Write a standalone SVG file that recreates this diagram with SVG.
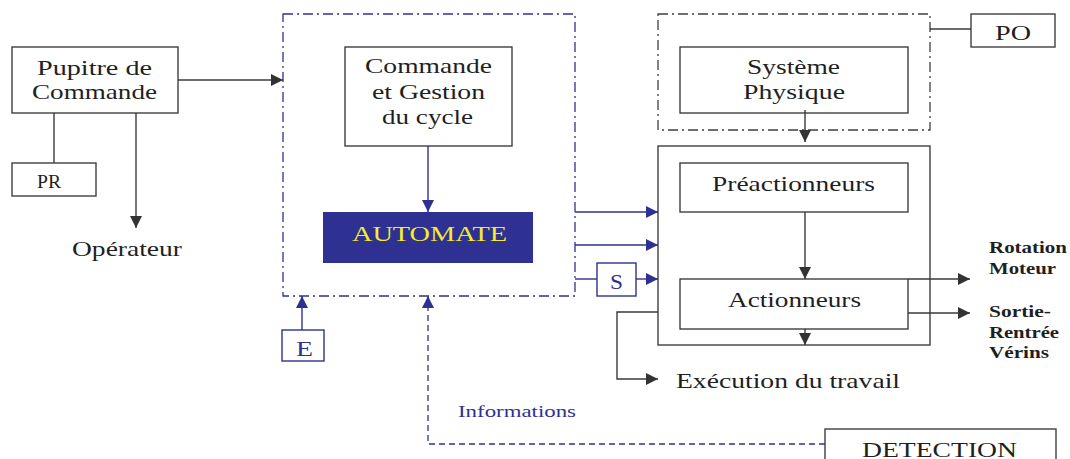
<svg xmlns="http://www.w3.org/2000/svg" width="1070" height="459" viewBox="0 0 1070 459">
  <style>
    .box { fill: #ffffff; stroke: #3f3f3f; stroke-width: 1.4; }
    .bbox { fill: #ffffff; stroke: #2e3192; stroke-width: 1.4; }
    .frame-blue { fill: none; stroke: #2e3192; stroke-width: 1.3; stroke-dasharray: 10 4 2 4; }
    .frame-gray { fill: none; stroke: #3f3f3f; stroke-width: 1.3; stroke-dasharray: 10 4 2 4; }
    .ln { fill: none; stroke: #3a3a3a; stroke-width: 1.4; }
    .lb { fill: none; stroke: #2e3192; stroke-width: 1.4; }
    .dash { fill: none; stroke: #2e3192; stroke-width: 1.3; stroke-dasharray: 6 4; }
    text { font-family: "Liberation Serif", "Times New Roman", serif; font-size: 21px; fill: #1f1f1f; }
    .sm { font-size: 16px; font-weight: bold; }
    .blue { fill: #2e3192; }
  </style>
  <defs>
    <marker id="ah" markerUnits="userSpaceOnUse" markerWidth="12" markerHeight="12" viewBox="0 0 12 12" refX="12" refY="6" orient="auto">
      <path d="M0,0 L12,6 L0,12 Z" fill="#333333"/>
    </marker>
    <marker id="ahb" markerUnits="userSpaceOnUse" markerWidth="12" markerHeight="12" viewBox="0 0 12 12" refX="12" refY="6" orient="auto">
      <path d="M0,0 L12,6 L0,12 Z" fill="#2e3192"/>
    </marker>
  </defs>

  <!-- control frame (blue dash-dot) -->
  <g id="partie-commande">
    <rect class="frame-blue" x="283" y="14" width="292" height="282"/>
  </g>

  <!-- operative part frame -->
  <g id="partie-operative">
    <rect class="frame-gray" x="658" y="14" width="272" height="116"/>
  </g>

  <g id="pupitre">
    <rect class="box" x="12" y="47" width="166" height="66"/>
    <text x="37" y="75" textLength="115" lengthAdjust="spacingAndGlyphs">Pupitre de</text>
    <text x="32" y="99" textLength="125" lengthAdjust="spacingAndGlyphs">Commande</text>
  </g>

  <g id="pr">
    <rect class="box" x="12" y="163" width="84" height="33"/>
    <text x="37" y="188" textLength="24" lengthAdjust="spacingAndGlyphs" style="font-size:18px">PR</text>
  </g>

  <g id="operateur">
    <text x="72" y="256" textLength="110" lengthAdjust="spacingAndGlyphs">Opérateur</text>
  </g>

  <g id="commande-gestion">
    <rect class="box" x="345" y="47" width="167" height="99"/>
    <text x="365" y="73" textLength="127" lengthAdjust="spacingAndGlyphs">Commande</text>
    <text x="372" y="99" textLength="113" lengthAdjust="spacingAndGlyphs">et Gestion</text>
    <text x="382" y="124" textLength="91" lengthAdjust="spacingAndGlyphs">du cycle</text>
  </g>

  <g id="automate">
    <rect x="323" y="212" width="210" height="51" fill="#2e3192"/>
    <text x="352" y="241" textLength="155" lengthAdjust="spacingAndGlyphs" style="fill:#f4ec2c">AUTOMATE</text>
  </g>

  <g id="systeme-physique">
    <rect class="box" x="680" y="47" width="228" height="66"/>
    <text x="747" y="74" textLength="93" lengthAdjust="spacingAndGlyphs">Système</text>
    <text x="743" y="99" textLength="102" lengthAdjust="spacingAndGlyphs">Physique</text>
  </g>

  <g id="po">
    <rect class="box" x="971" y="14" width="84" height="33"/>
    <text x="995" y="40" textLength="36" lengthAdjust="spacingAndGlyphs">PO</text>
  </g>

  <g id="chaine-action">
    <rect class="box" x="658" y="146" width="272" height="199"/>
  </g>

  <g id="preactionneurs">
    <rect class="box" x="680" y="163" width="228" height="49"/>
    <text x="712" y="191" textLength="163" lengthAdjust="spacingAndGlyphs">Préactionneurs</text>
  </g>

  <g id="actionneurs">
    <rect class="box" x="680" y="279" width="228" height="50"/>
    <text x="728" y="307" textLength="133" lengthAdjust="spacingAndGlyphs">Actionneurs</text>
  </g>

  <g id="sorties">
    <rect class="bbox" x="597" y="263" width="39" height="33"/>
    <text x="610" y="289" textLength="13" lengthAdjust="spacingAndGlyphs" class="blue">S</text>
  </g>

  <g id="entrees">
    <rect class="bbox" x="282" y="330" width="42" height="31"/>
    <text x="296" y="356" textLength="17" lengthAdjust="spacingAndGlyphs" class="blue">E</text>
  </g>

  <g id="detection">
    <rect class="box" x="825" y="429" width="231" height="40"/>
    <text x="862" y="457" textLength="155" lengthAdjust="spacingAndGlyphs">DETECTION</text>
  </g>

  <g id="effets">
    <text class="sm" x="989" y="253" textLength="78" lengthAdjust="spacingAndGlyphs">Rotation</text>
    <text class="sm" x="989" y="274" textLength="67" lengthAdjust="spacingAndGlyphs">Moteur</text>
    <text class="sm" x="989" y="317" textLength="62" lengthAdjust="spacingAndGlyphs">Sortie-</text>
    <text class="sm" x="989" y="338" textLength="70" lengthAdjust="spacingAndGlyphs">Rentrée</text>
    <text class="sm" x="989" y="358" textLength="60" lengthAdjust="spacingAndGlyphs">Vérins</text>
    <text x="676" y="388" textLength="224" lengthAdjust="spacingAndGlyphs">Exécution du travail</text>
  </g>

  <g id="connectors">
    <!-- pupitre links -->
    <path class="ln" d="M178,80 H283" marker-end="url(#ah)"/>
    <path class="ln" d="M54,113 V163"/>
    <path class="ln" d="M136,113 V228" marker-end="url(#ah)"/>
    <!-- control side -->
    <path class="lb" d="M428,146 V212" marker-end="url(#ahb)"/>
    <path class="lb" d="M575,212 H658" marker-end="url(#ahb)"/>
    <path class="lb" d="M575,245 H658" marker-end="url(#ahb)"/>
    <path class="lb" d="M575,279 H597"/>
    <path class="lb" d="M636,279 H658" marker-end="url(#ahb)"/>
    <path class="lb" d="M302,330 V296" marker-end="url(#ahb)"/>
    <!-- feedback from detection -->
    <path class="dash" d="M825,444 H428 V296" marker-end="url(#ahb)"/>
    <text x="458" y="417" textLength="118" lengthAdjust="spacingAndGlyphs" class="blue" style="font-size:17px">Informations</text>
    <!-- operative side -->
    <path class="ln" d="M930,29 H971"/>
    <path class="ln" d="M805,110 V142" marker-end="url(#ah)"/>
    <path class="ln" d="M805,212 V279" marker-end="url(#ah)"/>
    <path class="ln" d="M805,329 V345" marker-end="url(#ah)"/>
    <path class="ln" d="M908,279 H970" marker-end="url(#ah)"/>
    <path class="ln" d="M908,313 H970" marker-end="url(#ah)"/>
    <path class="ln" d="M658,312 H617 V379 H658" marker-end="url(#ah)"/>
  </g>
</svg>
